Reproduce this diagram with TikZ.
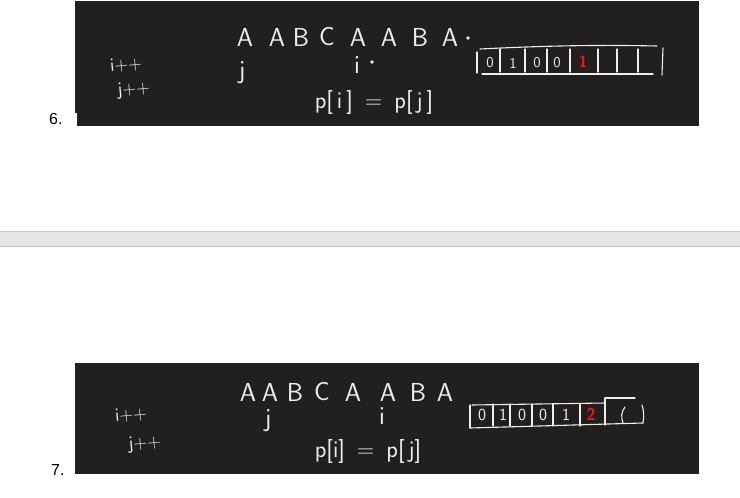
\documentclass[tikz,border=0pt]{standalone}
\usepackage{fontspec}
\newfontfamily\listfont{Liberation Sans}
\definecolor{board}{RGB}{33,32,31}
\definecolor{chalk}{RGB}{238,238,236}
\definecolor{redchalk}{RGB}{232,22,36}
\definecolor{sepgray}{RGB}{230,230,230}
\definecolor{sepedge}{RGB}{196,196,196}

\begin{document}
\begin{tikzpicture}[x=1pt,y=-1pt,
	chalk/.style={draw=chalk, line width=1.1pt, line cap=round},
	hand/.style={text=chalk, inner sep=0pt, font=\sffamily\fontsize{26}{26}\selectfont},
	note/.style={text=chalk, inner sep=0pt, font=\sffamily\fontsize{19}{19}\selectfont},
	digit/.style={text=chalk, inner sep=0pt, font=\sffamily\fontsize{15}{15}\selectfont},
	num/.style={inner sep=0pt, anchor=base west, font=\listfont\fontsize{16}{16}\selectfont}]
		\useasboundingbox (0,0) rectangle (740,498);
		\fill[white] (0,0) rectangle (740,498);
		% grey separator between the two items
		\fill[sepgray] (0,231) rectangle (740,246);
		\draw[sepedge] (0,231) -- (740,231);
		\draw[sepedge] (0,246) -- (740,246);
		% the two boards
		\fill[board] (75,1) rectangle (699,126);
		\fill[white] (75,113) rectangle (77,126);
		\fill[board] (75,363) rectangle (699,474);
		\node[num] (six) at (49,124) {6.};
		\node[num] (seven) at (51,475) {7.};
		%%% board 6
		\node[note, rotate=5] (inc1) at (126,65) {i++};
		\node[note, rotate=5] (jnc1) at (134,90) {j++};
		\foreach \c/\x [count=\k] in {A/245,A/277,B/301,C/327,A/358,A/389,B/420,A/450}
			\node[hand] (topstr\k) at (\x,37) {\c};
		\fill[chalk] (468,38) circle (1.2pt);
		\node[hand] (topj) at (242,73) {j};
		\node[hand] (topi) at (357,65) {i};
		\fill[chalk] (372,62) circle (1pt);
		\node[hand, font=\sffamily\fontsize{24}{24}\selectfont] (topeq) at (374,102) {p[\,i\,]\enspace=\enspace p[\,j\,]};
		% array
		\draw[chalk] (477,52) -- (477,73);
		\draw[chalk] (480,49) .. controls (560,45) and (610,45) .. (657,46);
		\draw[chalk] (482,74) -- (653,74);
		\foreach \x in {500,525,547,570,598,617,638}
			\draw[chalk] (\x,49) -- (\x,72);
		\draw[chalk] (663,48) -- (662,75);
		\foreach \d/\x [count=\k] in {0/490,1/513,0/537,0/557}
			\node[digit] (topcell\k) at (\x,63) {\d};
		\node[digit, text=redchalk, font=\sffamily\bfseries\fontsize{16}{16}\selectfont] (topred) at (583,62) {1};
		%%% board 7
		\node[note, rotate=5] (inc2) at (131,415) {i++};
		\node[note, rotate=5] (jnc2) at (145,444) {j++};
		\foreach \c/\x [count=\k] in {A/248,A/270,B/295,C/322,A/353,A/388,B/418,A/445}
			\node[hand] (botstr\k) at (\x,392) {\c};
		\node[hand] (botj) at (268,421) {j};
		\node[hand] (boti) at (382,416) {i};
		\node[hand, font=\sffamily\fontsize{24}{24}\selectfont] (boteq) at (368,451) {p[i]\enspace=\enspace p[\,j]};
		% array
		\draw[chalk] (470,405) -- (470,428);
		\draw[chalk] (472,405) -- (605,403);
		\draw[chalk] (605,398) -- (635,398);
		\draw[chalk] (470,428) -- (643,423);
		\foreach \x in {493,510,532,553,580}
			\draw[chalk] (\x,404) -- (\x,426);
		\draw[chalk] (605,398) -- (605,425);
		\draw[chalk] (625,407) .. controls (621,412) and (621,418) .. (623,423);
		\draw[chalk] (642,405) .. controls (644,411) and (644,417) .. (643,423);
		\foreach \d/\x [count=\k] in {0/482,1/503,0/522,0/543,1/566}
			\node[digit, font=\sffamily\fontsize{17}{17}\selectfont] (botcell\k) at (\x,415) {\d};
		\node[digit, text=redchalk, font=\sffamily\bfseries\fontsize{17}{17}\selectfont] (botred) at (591,414) {2};
	\end{tikzpicture}
\end{document}
